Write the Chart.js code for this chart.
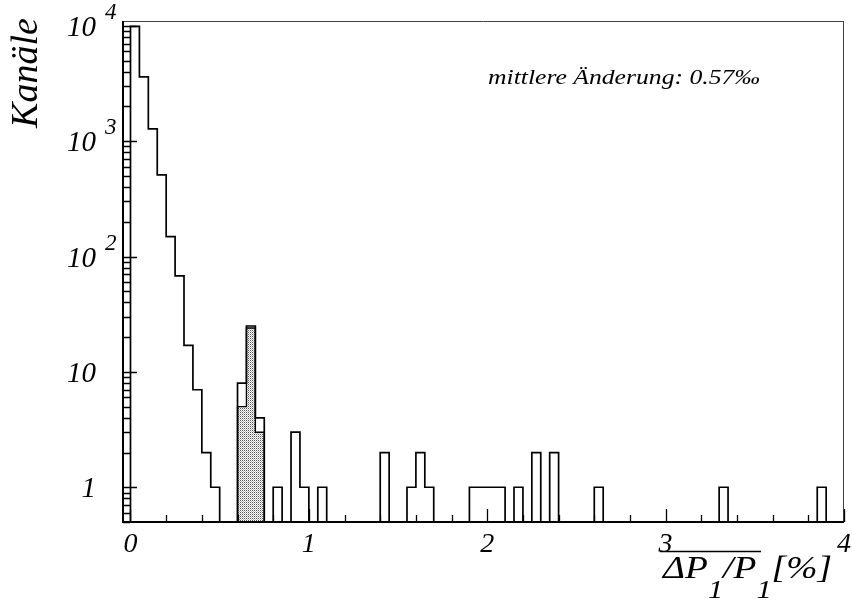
<!DOCTYPE html>
<html>
<head>
<meta charset="utf-8">
<title>Kanäle</title>
<script src="https://cdn.jsdelivr.net/npm/chart.js@4.4.1/dist/chart.umd.min.js"></script>
<style>
    html, body { margin: 0; padding: 0; background: #fff; }
    #wrap { width: 852px; height: 603px; }
</style>
</head>
<body>
<div id="wrap"><canvas id="histChart" width="852" height="603"></canvas></div>
<script>
// Histogram data (bin width 0.05, only filled bins listed)
var binWidth = 0.05;
var binLow = [0, 0.05, 0.1, 0.15, 0.2, 0.25, 0.3, 0.35, 0.4, 0.45,
              0.6, 0.65, 0.7, 0.8, 0.9, 0.95, 1.05, 1.4, 1.55, 1.6, 1.65,
              1.9, 1.95, 2.0, 2.05, 2.15, 2.25, 2.35, 2.6, 3.3, 3.85];
var binCounts = [9900, 3600, 1280, 510, 149, 68, 17, 7, 2, 1,
                 8, 25, 4, 1, 3, 1, 1, 2, 1, 2, 1,
                 1, 1, 1, 1, 1, 2, 2, 1, 1, 1];

// Shaded sub-histogram
var shadedLow = [0.6, 0.65, 0.7];
var shadedCounts = [5, 24, 3];

// Axis ticks and labels
var xTickValues = [0, 1, 2, 3, 4];
var xTickLabels = ['0', '1', '2', '3', '4'];
var yTickValues = [1, 10, 100, 1000, 10000];
var yTickBase = ['1', '10', '10', '10', '10'];
var yTickExp = ['', '', '2', '3', '4'];

var xMin = -0.042, xMax = 4;
var yMin = 0.5, yMax = 11000;
var emptyLevel = 0.3; // below the axis, used for empty bins

var serif = '"Liberation Serif", "Times New Roman", serif';

// Turn bins into points for a stepped line
function buildSteps(lows, counts) {
    var points = [];
    var end = null;
    for (var i = 0; i < lows.length; i++) {
        if (end === null || Math.abs(lows[i] - end) > 1e-6) {
            if (end !== null) {
                points.push({x: end, y: emptyLevel});
            }
            points.push({x: lows[i], y: emptyLevel});
        }
        points.push({x: lows[i], y: counts[i]});
        end = lows[i] + binWidth;
    }
    points.push({x: end, y: emptyLevel});
    return points;
}

// Dotted fill pattern
function makePattern() {
    var c = document.createElement('canvas');
    c.width = 2;
    c.height = 2;
    var p = c.getContext('2d');
    p.fillStyle = '#fff';
    p.fillRect(0, 0, 2, 2);
    p.fillStyle = '#555';
    p.fillRect(0, 0, 1, 1);
    p.fillStyle = '#bbb';
    p.fillRect(1, 1, 1, 1);
    return p.createPattern(c, 'repeat');
}

// Draw text pieces [text, size, dy] stretched to a given width
function drawPieces(ctx, parts, x, baseY, width) {
    var total = 0;
    var i;
    for (i = 0; i < parts.length; i++) {
        ctx.font = 'italic ' + parts[i][1] + 'px ' + serif;
        total += ctx.measureText(parts[i][0]).width;
    }
    var sx = width / total;
    ctx.save();
    ctx.translate(x, baseY);
    ctx.scale(sx, 1);
    ctx.textAlign = 'left';
    var cx = 0;
    for (i = 0; i < parts.length; i++) {
        ctx.font = 'italic ' + parts[i][1] + 'px ' + serif;
        ctx.fillText(parts[i][0], cx, parts[i][2]);
        cx += ctx.measureText(parts[i][0]).width;
    }
    ctx.restore();
}

// Frame, inward ticks and all texts
var axesPlugin = {
    id: 'axesPlugin',
    afterDatasetsDraw: function(chart) {
        var ctx = chart.ctx;
        var area = chart.chartArea;
        var xs = chart.scales.x;
        var ys = chart.scales.y;

        ctx.save();
        ctx.fillStyle = '#000';

        // frame
        ctx.lineWidth = 1;
        ctx.strokeStyle = '#444';
        ctx.beginPath();
        ctx.moveTo(area.left, area.top + 0.5);
        ctx.lineTo(area.right, area.top + 0.5);
        ctx.moveTo(area.right - 0.5, area.top);
        ctx.lineTo(area.right - 0.5, area.bottom);
        ctx.stroke();
        ctx.strokeStyle = '#000';
        ctx.lineWidth = 2;
        ctx.beginPath();
        ctx.moveTo(area.left, area.top);
        ctx.lineTo(area.left, area.bottom);
        ctx.lineTo(area.right, area.bottom);
        ctx.stroke();

        // y ticks (log)
        ctx.lineWidth = 1.3;
        ctx.beginPath();
        for (var d = -1; d <= 4; d++) {
            for (var k = 1; k <= 9; k++) {
                var v = k * Math.pow(10, d);
                if (v < yMin || v > yMax) continue;
                var py = Math.round(ys.getPixelForValue(v)) + 0.5;
                ctx.moveTo(area.left, py);
                ctx.lineTo(area.left + (k === 1 ? 14 : 7), py);
            }
        }
        // x ticks
        for (var t = 0; t <= 20; t++) {
            var xv = t * 0.2;
            var px = Math.round(xs.getPixelForValue(xv)) + 0.5;
            ctx.moveTo(px, area.bottom);
            ctx.lineTo(px, area.bottom - (t % 5 === 0 ? 13 : 7));
        }
        ctx.stroke();

        // x tick labels
        ctx.font = 'italic 28px ' + serif;
        ctx.textAlign = 'center';
        ctx.textBaseline = 'alphabetic';
        for (var i = 0; i < xTickValues.length; i++) {
            ctx.fillText(xTickLabels[i], xs.getPixelForValue(xTickValues[i]), 552);
        }

        // y tick labels
        for (var j = 0; j < yTickValues.length; j++) {
            var ty = ys.getPixelForValue(yTickValues[j]);
            ctx.font = 'italic 29px ' + serif;
            ctx.textAlign = 'right';
            ctx.fillText(yTickBase[j], 96, ty + 10);
            if (yTickExp[j]) {
                ctx.font = 'italic 23px ' + serif;
                ctx.textAlign = 'left';
                ctx.fillText(yTickExp[j], 105, ty - 7);
            }
        }

        // y title
        ctx.save();
        ctx.translate(37, 73);
        ctx.rotate(-Math.PI / 2);
        ctx.font = 'italic 38px ' + serif;
        ctx.textAlign = 'center';
        ctx.fillText('Kanäle', 0, 0);
        ctx.restore();

        // x title: overline(ΔP1/P1)[%]
        drawPieces(ctx, [
            ['ΔP', 32, 0], ['1', 26, 20], ['/P', 32, 0], ['1', 26, 20], ['[%]', 32, 0]
        ], 663, 578, 169);
        ctx.lineWidth = 1.3;
        ctx.beginPath();
        ctx.moveTo(660, 551.5);
        ctx.lineTo(761, 551.5);
        ctx.stroke();

        // annotation
        drawPieces(ctx, [['mittlere Änderung: 0.57‰', 22, 0]], 488, 84, 272);

        ctx.restore();
    }
};

document.addEventListener('DOMContentLoaded', function() {
    var ctx = document.getElementById('histChart').getContext('2d');

    new Chart(ctx, {
        type: 'line',
        data: {
            datasets: [{
                label: 'alle',
                data: buildSteps(binLow, binCounts),
                stepped: true,
                borderColor: '#000',
                borderWidth: 1.7,
                pointRadius: 0,
                fill: false,
                order: 0
            }, {
                label: 'Auswahl',
                data: buildSteps(shadedLow, shadedCounts),
                stepped: true,
                borderColor: '#000',
                borderWidth: 1.4,
                backgroundColor: makePattern(),
                pointRadius: 0,
                fill: 'start',
                order: 1
            }]
        },
        options: {
            responsive: false,
            animation: false,
            events: [],
            layout: {
                padding: {left: 123, top: 21, right: 8, bottom: 81}
            },
            plugins: {
                legend: {display: false},
                tooltip: {enabled: false}
            },
            scales: {
                x: {type: 'linear', min: xMin, max: xMax, display: false},
                y: {type: 'logarithmic', min: yMin, max: yMax, display: false}
            }
        },
        plugins: [axesPlugin]
    });
});
</script>
</body>
</html>
